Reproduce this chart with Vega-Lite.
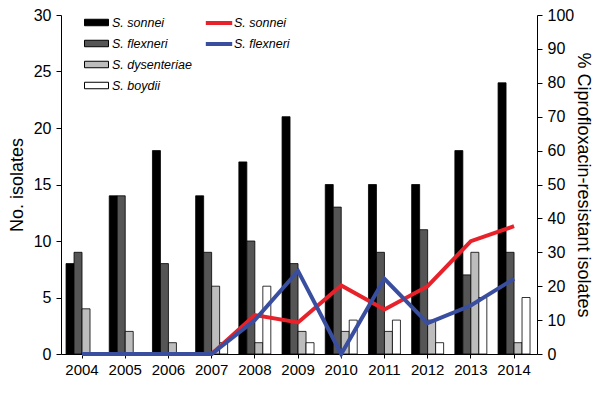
{
  "$schema": "https://vega.github.io/schema/vega-lite/v6.json",
  "width": 476,
  "height": 339,
  "autosize": "none",
  "padding": {"left": 61, "top": 15, "right": 63, "bottom": 50},
  "config": {
    "view": {"stroke": null},
    "font": "Liberation Sans",
    "axis": {"grid": false, "domainColor": "black", "tickColor": "black", "labelColor": "black", "titleColor": "black", "labelFontSize": 15, "titleFontSize": 18, "titleFontWeight": "normal", "labelFont": "Liberation Sans", "titleFont": "Liberation Sans"},
    "legend": {"labelFont": "Liberation Sans", "labelFontStyle": "italic", "labelFontSize": 12.5, "labelColor": "black", "padding": 0}
  },
  "datasets": {
    "bars": [
      {"year": "2004", "species": "S. sonnei", "count": 8},
      {"year": "2004", "species": "S. flexneri", "count": 9},
      {"year": "2004", "species": "S. dysenteriae", "count": 4},
      {"year": "2004", "species": "S. boydii", "count": 0},
      {"year": "2005", "species": "S. sonnei", "count": 14},
      {"year": "2005", "species": "S. flexneri", "count": 14},
      {"year": "2005", "species": "S. dysenteriae", "count": 2},
      {"year": "2005", "species": "S. boydii", "count": 0},
      {"year": "2006", "species": "S. sonnei", "count": 18},
      {"year": "2006", "species": "S. flexneri", "count": 8},
      {"year": "2006", "species": "S. dysenteriae", "count": 1},
      {"year": "2006", "species": "S. boydii", "count": 0},
      {"year": "2007", "species": "S. sonnei", "count": 14},
      {"year": "2007", "species": "S. flexneri", "count": 9},
      {"year": "2007", "species": "S. dysenteriae", "count": 6},
      {"year": "2007", "species": "S. boydii", "count": 1},
      {"year": "2008", "species": "S. sonnei", "count": 17},
      {"year": "2008", "species": "S. flexneri", "count": 10},
      {"year": "2008", "species": "S. dysenteriae", "count": 1},
      {"year": "2008", "species": "S. boydii", "count": 6},
      {"year": "2009", "species": "S. sonnei", "count": 21},
      {"year": "2009", "species": "S. flexneri", "count": 8},
      {"year": "2009", "species": "S. dysenteriae", "count": 2},
      {"year": "2009", "species": "S. boydii", "count": 1},
      {"year": "2010", "species": "S. sonnei", "count": 15},
      {"year": "2010", "species": "S. flexneri", "count": 13},
      {"year": "2010", "species": "S. dysenteriae", "count": 2},
      {"year": "2010", "species": "S. boydii", "count": 3},
      {"year": "2011", "species": "S. sonnei", "count": 15},
      {"year": "2011", "species": "S. flexneri", "count": 9},
      {"year": "2011", "species": "S. dysenteriae", "count": 2},
      {"year": "2011", "species": "S. boydii", "count": 3},
      {"year": "2012", "species": "S. sonnei", "count": 15},
      {"year": "2012", "species": "S. flexneri", "count": 11},
      {"year": "2012", "species": "S. dysenteriae", "count": 3},
      {"year": "2012", "species": "S. boydii", "count": 1},
      {"year": "2013", "species": "S. sonnei", "count": 18},
      {"year": "2013", "species": "S. flexneri", "count": 7},
      {"year": "2013", "species": "S. dysenteriae", "count": 9},
      {"year": "2013", "species": "S. boydii", "count": 5},
      {"year": "2014", "species": "S. sonnei", "count": 24},
      {"year": "2014", "species": "S. flexneri", "count": 9},
      {"year": "2014", "species": "S. dysenteriae", "count": 1},
      {"year": "2014", "species": "S. boydii", "count": 5}
    ],
    "lines": [
      {"year": "2004", "species": "S. sonnei", "pct": 0},
      {"year": "2005", "species": "S. sonnei", "pct": 0},
      {"year": "2006", "species": "S. sonnei", "pct": 0},
      {"year": "2007", "species": "S. sonnei", "pct": 0},
      {"year": "2008", "species": "S. sonnei", "pct": 11.5},
      {"year": "2009", "species": "S. sonnei", "pct": 9.3},
      {"year": "2010", "species": "S. sonnei", "pct": 20.2},
      {"year": "2011", "species": "S. sonnei", "pct": 13.1},
      {"year": "2012", "species": "S. sonnei", "pct": 20},
      {"year": "2013", "species": "S. sonnei", "pct": 33.3},
      {"year": "2014", "species": "S. sonnei", "pct": 37.7},
      {"year": "2004", "species": "S. flexneri", "pct": 0},
      {"year": "2005", "species": "S. flexneri", "pct": 0},
      {"year": "2006", "species": "S. flexneri", "pct": 0},
      {"year": "2007", "species": "S. flexneri", "pct": 0},
      {"year": "2008", "species": "S. flexneri", "pct": 10},
      {"year": "2009", "species": "S. flexneri", "pct": 24.5},
      {"year": "2010", "species": "S. flexneri", "pct": 0},
      {"year": "2011", "species": "S. flexneri", "pct": 22.2},
      {"year": "2012", "species": "S. flexneri", "pct": 9.1},
      {"year": "2013", "species": "S. flexneri", "pct": 14.3},
      {"year": "2014", "species": "S. flexneri", "pct": 22.2}
    ]
  },
  "encoding": {
    "x": {
      "field": "year", "type": "nominal",
      "scale": {"paddingInner": 0.26, "paddingOuter": 0.139, "align": 0.42},
      "axis": {"title": null, "labelAngle": 0, "tickSize": 4, "labelPadding": 4, "domainColor": "black"}
    }
  },
  "layer": [
    {
      "data": {"name": "bars"},
      "mark": {"type": "bar", "stroke": "black", "strokeWidth": 0.8},
      "encoding": {
        "xOffset": {"field": "species", "type": "nominal", "scale": {"domain": ["S. sonnei", "S. flexneri", "S. dysenteriae", "S. boydii"], "paddingInner": 0, "paddingOuter": 0}},
        "y": {"field": "count", "type": "quantitative", "scale": {"domain": [0, 30]},
          "axis": {"title": "No. isolates", "values": [0, 5, 10, 15, 20, 25, 30], "tickSize": 5, "labelPadding": 5, "labelFontSize": 16, "titlePadding": 7}},
        "fill": {"field": "species", "type": "nominal",
          "scale": {"domain": ["S. sonnei", "S. flexneri", "S. dysenteriae", "S. boydii"], "range": ["#000000", "#555555", "#bdbdbd", "#ffffff"]},
          "legend": {"title": null, "orient": "none", "legendX": 23, "legendY": -5, "symbolType": "M-1,-0.27H1V0.27H-1Z", "symbolSize": 576, "symbolStrokeColor": "black", "symbolStrokeWidth": 1, "symbolOpacity": 1, "labelOffset": 3, "rowPadding": 2}}
      }
    },
    {
      "data": {"name": "lines"},
      "mark": {"type": "line", "strokeWidth": 4},
      "encoding": {
        "y": {"field": "pct", "type": "quantitative", "scale": {"domain": [0, 100]},
          "axis": {"title": "% Ciprofloxacin-resistant isolates", "orient": "right", "values": [0, 10, 20, 30, 40, 50, 60, 70, 80, 90, 100], "tickSize": 5, "labelPadding": 5, "labelFontSize": 16, "titlePadding": 0}},
        "stroke": {"field": "species", "type": "nominal",
          "scale": {"domain": ["S. sonnei", "S. flexneri"], "range": ["#e8222a", "#3a4e9f"]},
          "legend": {"title": null, "orient": "none", "legendX": 145, "legendY": -5, "symbolType": "M-1.2,0H1.2", "symbolSize": 484, "symbolStrokeWidth": 4, "labelOffset": 2, "rowPadding": 0}}
      }
    }
  ],
  "resolve": {"scale": {"y": "independent"}}
}
